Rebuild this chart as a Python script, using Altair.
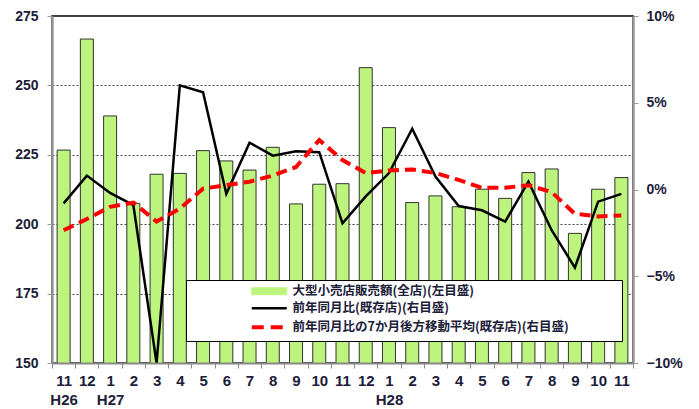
import altair as alt
import pandas as pd

months = ["11", "12", "1", "2", "3", "4", "5", "6", "7", "8", "9", "10", "11",
          "12", "1", "2", "3", "4", "5", "6", "7", "8", "9", "10", "11"]
years = ["H26", "", "H27", "", "", "", "", "", "", "", "", "", "",
         "", "H28", "", "", "", "", "", "", "", "", "", ""]
sales = [226.7, 266.7, 239.0, 207.5, 218.0, 218.3, 226.5, 222.8, 219.5, 227.7, 207.3, 214.4, 214.6,
         256.4, 234.8, 207.8, 210.2, 206.3, 212.6, 209.3, 218.6, 219.9, 196.7, 212.6, 216.8]
yoy = [-0.8, 0.8, -0.2, -0.9, -10.0, 6.0, 5.6, -0.25, 2.7, 1.95, 2.2, 2.15, -1.95,
       -0.4, 0.95, 3.5, 0.75, -0.95, -1.2, -1.85, 0.45, -2.35, -4.5, -0.7, -0.25]
ma7 = [-2.35, -1.7, -1.0, -0.75, -1.85, -1.1, 0.05, 0.25, 0.45, 0.8, 1.3, 2.85, 1.7,
       0.95, 1.1, 1.15, 0.95, 0.55, 0.1, 0.1, 0.25, -0.15, -1.4, -1.55, -1.5]

names = ["大型小売店販売額(全店)(左目盛)", "前年同月比(既存店)(右目盛)",
         "前年同月比の7か月後方移動平均(既存店)(右目盛)"]
colors = ["#bdf47d", "#000000", "#ff0000"]

df = pd.DataFrame({"i": list(range(len(months))), "sales": sales, "yoy": yoy, "ma": ma7})
df["s0"] = names[0]
df["s1"] = names[1]
df["s2"] = names[2]

label_arr = "[" + ",".join(f"['{m}','{y}']" for m, y in zip(months, years)) + "]"
LBL = "#1b2038"
FONT = "Liberation Sans"

xscale = alt.Scale(paddingInner=0, paddingOuter=0)
x_axis = alt.X(
    "i:O",
    scale=xscale,
    axis=alt.Axis(
        title=None, labelAngle=0, labelExpr=f"{label_arr}[datum.value]",
        tickBand="extent", tickSize=5, tickColor="#888", domainColor="#888", domainWidth=2,
        labelFont=FONT, labelFontSize=15, labelFontWeight="bold", labelColor=LBL,
        labelPadding=5, labelLineHeight=19, grid=False, zindex=1,
    ),
)

color_scale = alt.Scale(domain=names, range=colors)

legend = alt.Legend(
    title=".", titleOrient="right", titleColor="white", titleFontSize=1, titlePadding=47,
    orient="none", legendX=134, legendY=264,
    fillColor="white", strokeColor="#000", padding=5,
    symbolOffset=72, labelOffset=17, symbolSize=1225,
    labelFont="Noto Sans CJK JP", labelFontSize=12.5, labelFontWeight="bold", labelColor=LBL,
    labelLimit=700, rowPadding=4,
    symbolType=alt.ExprRef("datum.index == 0 ? 'M-1,-0.2H1V0.2H-1Z' : 'stroke'"),
    symbolStrokeWidth=alt.ExprRef("datum.index == 0 ? 1 : datum.index == 1 ? 2.5 : 4"),
    symbolDash=alt.ExprRef("datum.index == 2 ? [12, 7] : [1, 0]"),
    symbolStrokeColor=alt.ExprRef("datum.index == 0 ? '#333333' : scale('color', datum.value)"),
    symbolFillColor=alt.ExprRef("datum.index == 0 ? scale('color', datum.value) : 'transparent'"),
)

bars = alt.Chart(df).mark_bar(size=13, stroke="#333333", strokeWidth=1, clip=True).encode(
    x=x_axis,
    y=alt.Y("sales:Q", scale=alt.Scale(domain=[150, 275], nice=False, zero=False),
            axis=alt.Axis(title=None, values=[150, 175, 200, 225, 250, 275], grid=True,
                          gridDash=[2, 2], gridColor="#444", gridWidth=1,
                          domainColor="#999", domainWidth=2.5, tickColor="#999", tickSize=5,
                          labelFont=FONT, labelFontSize=14, labelFontWeight="bold",
                          labelColor=LBL, labelPadding=9)),
    color=alt.Color("s0:N", scale=color_scale, legend=legend),
)

yr = alt.Y("yoy:Q", scale=alt.Scale(domain=[-10, 10], nice=False),
           axis=alt.Axis(title=None, orient="right", values=[-10, -5, 0, 5, 10], grid=False,
                         domainColor="#999", domainWidth=2.5, tickColor="#999", tickSize=5,
                         labelFont=FONT, labelFontSize=14, labelFontWeight="bold",
                         labelColor=LBL, labelPadding=8,
                         labelExpr="datum.value > 0 ? datum.value + '%' : datum.value < 0 ? '−' + abs(datum.value) + '%' : '0%'"))

line1 = alt.Chart(df).mark_line(strokeWidth=2.5).encode(
    x=x_axis, y=yr, color=alt.Color("s1:N", scale=color_scale, legend=legend),
)
line2 = alt.Chart(df).mark_line(strokeWidth=4, strokeDash=[11, 6]).encode(
    x=x_axis, y=alt.Y("ma:Q"), color=alt.Color("s2:N", scale=color_scale, legend=legend),
)

chart = alt.layer(bars, alt.layer(line1, line2)).resolve_scale(y="independent").properties(
    width=581, height=347,
    autosize=alt.AutoSizeParams(type="none"),
    padding={"left": 44, "top": 8, "right": 58, "bottom": 46},
).configure_view(stroke="#000", strokeWidth=1.5)

chart.save("out.html", embed_options={"renderer": "svg", "actions": False})
